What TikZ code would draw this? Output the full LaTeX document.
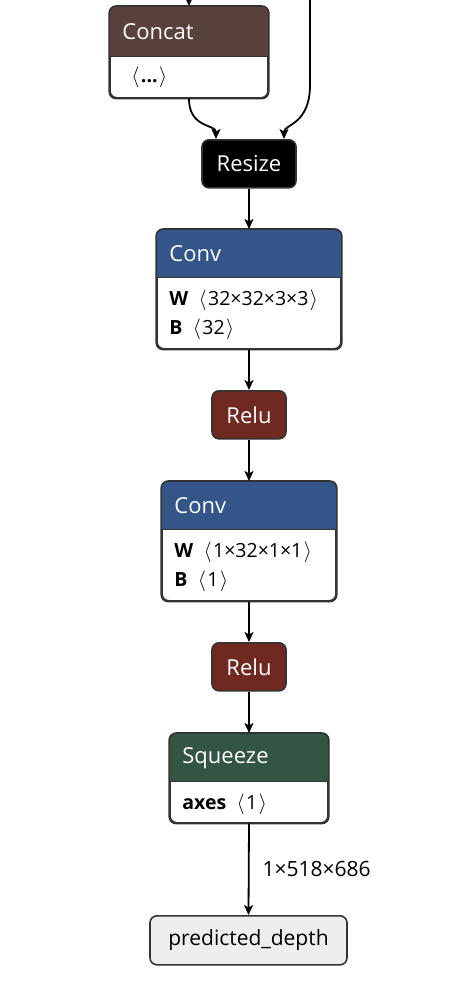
\documentclass[tikz,border=0pt]{standalone}
\usepackage{fontspec}
\setmainfont{Open Sans}
\usetikzlibrary{arrows.meta,calc}
\definecolor{cLayer}{RGB}{51,85,136}
\definecolor{cAct}{RGB}{112,41,33}
\definecolor{cTensor}{RGB}{89,66,59}
\definecolor{cTrans}{RGB}{51,85,68}
\definecolor{cBorder}{RGB}{51,51,51}
\definecolor{cOut}{RGB}{238,238,238}
\newcommand\la{\kern2pt$\langle$\kern1.5pt}
\newcommand\ra{\kern1.5pt$\rangle$}
\tikzset{
  boxline/.style={draw=cBorder, line width=1.6pt, rounded corners=7pt},
  opbox/.style={boxline, fill=white, inner sep=0pt, anchor=north},
  titletext/.style={text=white, anchor=west, inner sep=0pt, font=\fontsize{22}{22}\selectfont},
  bodytext/.style={text=black, anchor=west, inner sep=0pt, font=\fontsize{19.5}{19.5}\selectfont},
  conn/.style={draw=black, line width=1.8pt, -{Stealth[length=10pt,width=9pt,inset=2.5pt]}},
}
\newcommand\header[4]{% name, header height, colour, title
  \fill[#3] ($(#1.north west)+(0,#2)$) [rounded corners=7pt] -- (#1.north west) -- (#1.north east) [sharp corners] -- ($(#1.north east)+(0,#2)$) -- cycle;
  \draw[draw=cBorder, line width=1pt] ($(#1.north west)+(0,#2)$) -- ($(#1.north east)+(0,#2)$);
  \draw[boxline, fill=none] (#1.south west) rectangle (#1.north east);
  \node[titletext] (#1-title) at ($(#1.north west)+(13,#2/2+1)$) {#4};
}
\begin{document}
\begin{tikzpicture}[x=1pt,y=-1pt]
\useasboundingbox (0,0) rectangle (459,1007);
% free ends
\coordinate (in1) at (189,-10);
\coordinate (in2) at (310,-10);
% Concat
\node[opbox, minimum width=158pt, minimum height=91pt] (concat) at (189,6) {};
\header{concat}{50}{cTensor}{Concat}
\node[bodytext] (concat-b) at ($(concat.north west)+(20,71)$) {\textbf{\la...\ra}};
% Resize
\node[boxline, fill=black, text=white, minimum width=94pt, minimum height=48pt, anchor=north, inner sep=0pt, font=\fontsize{22}{22}\selectfont] (resize) at (249,139) {Resize};
% Conv 1
\node[opbox, minimum width=184pt, minimum height=119pt] (conv1) at (249,229) {};
\header{conv1}{48}{cLayer}{Conv}
\node[bodytext] (conv1-w) at ($(conv1.north west)+(13,71)$) {\textbf{W}\, \la32×32×3×3\ra};
\node[bodytext] (conv1-b) at ($(conv1.north west)+(13,100)$) {\textbf{B}\, \la32\ra};
% Relu 1
\node[boxline, fill=cAct, text=white, minimum width=74pt, minimum height=48pt, anchor=north, inner sep=0pt, font=\fontsize{22}{22}\selectfont] (relu1) at (249,390) {Relu};
% Conv 2
\node[opbox, minimum width=174pt, minimum height=119pt] (conv2) at (249,481) {};
\header{conv2}{48}{cLayer}{Conv}
\node[bodytext] (conv2-w) at ($(conv2.north west)+(13,71)$) {\textbf{W}\, \la1×32×1×1\ra};
\node[bodytext] (conv2-b) at ($(conv2.north west)+(13,100)$) {\textbf{B}\, \la1\ra};
% Relu 2
\node[boxline, fill=cAct, text=white, minimum width=74pt, minimum height=48pt, anchor=north, inner sep=0pt, font=\fontsize{22}{22}\selectfont] (relu2) at (249,642) {Relu};
% Squeeze
\node[opbox, minimum width=158pt, minimum height=89pt] (squeeze) at (249,733) {};
\header{squeeze}{48}{cTrans}{Squeeze}
\node[bodytext] (squeeze-a) at ($(squeeze.north west)+(13,71)$) {\textbf{axes}\, \la1\ra};
% Output
\node[boxline, fill=cOut, text=black, minimum width=197pt, minimum height=49pt, anchor=north, inner sep=0pt, font=\fontsize{21}{21}\selectfont] (out) at (248.5,915) {predicted\_depth};
% connectors
\draw[conn] (in1) -- (concat.north);
\draw[conn] (concat.south) .. controls ($(concat.south)+(0,30)$) and ($(resize.north)+(-33,-15)$) .. ($(resize.north)+(-33,0)$);
\draw[conn] (in2) -- (310,85) .. controls (310,125) and ($(resize.north)+(35,-15)$) .. ($(resize.north)+(35,0)$);
\draw[conn] (resize.south) -- (conv1.north);
\draw[conn] (conv1.south) -- (relu1.north);
\draw[conn] (relu1.south) -- (conv2.north);
\draw[conn] (conv2.south) -- (relu2.north);
\draw[conn] (relu2.south) -- (squeeze.north);
\draw[conn] (squeeze.south) -- node[right, pos=0.5, xshift=13pt, inner sep=0pt, font=\fontsize{21}{21}\selectfont] (shape) {1×518×686} (out.north);
\end{tikzpicture}
\end{document}
